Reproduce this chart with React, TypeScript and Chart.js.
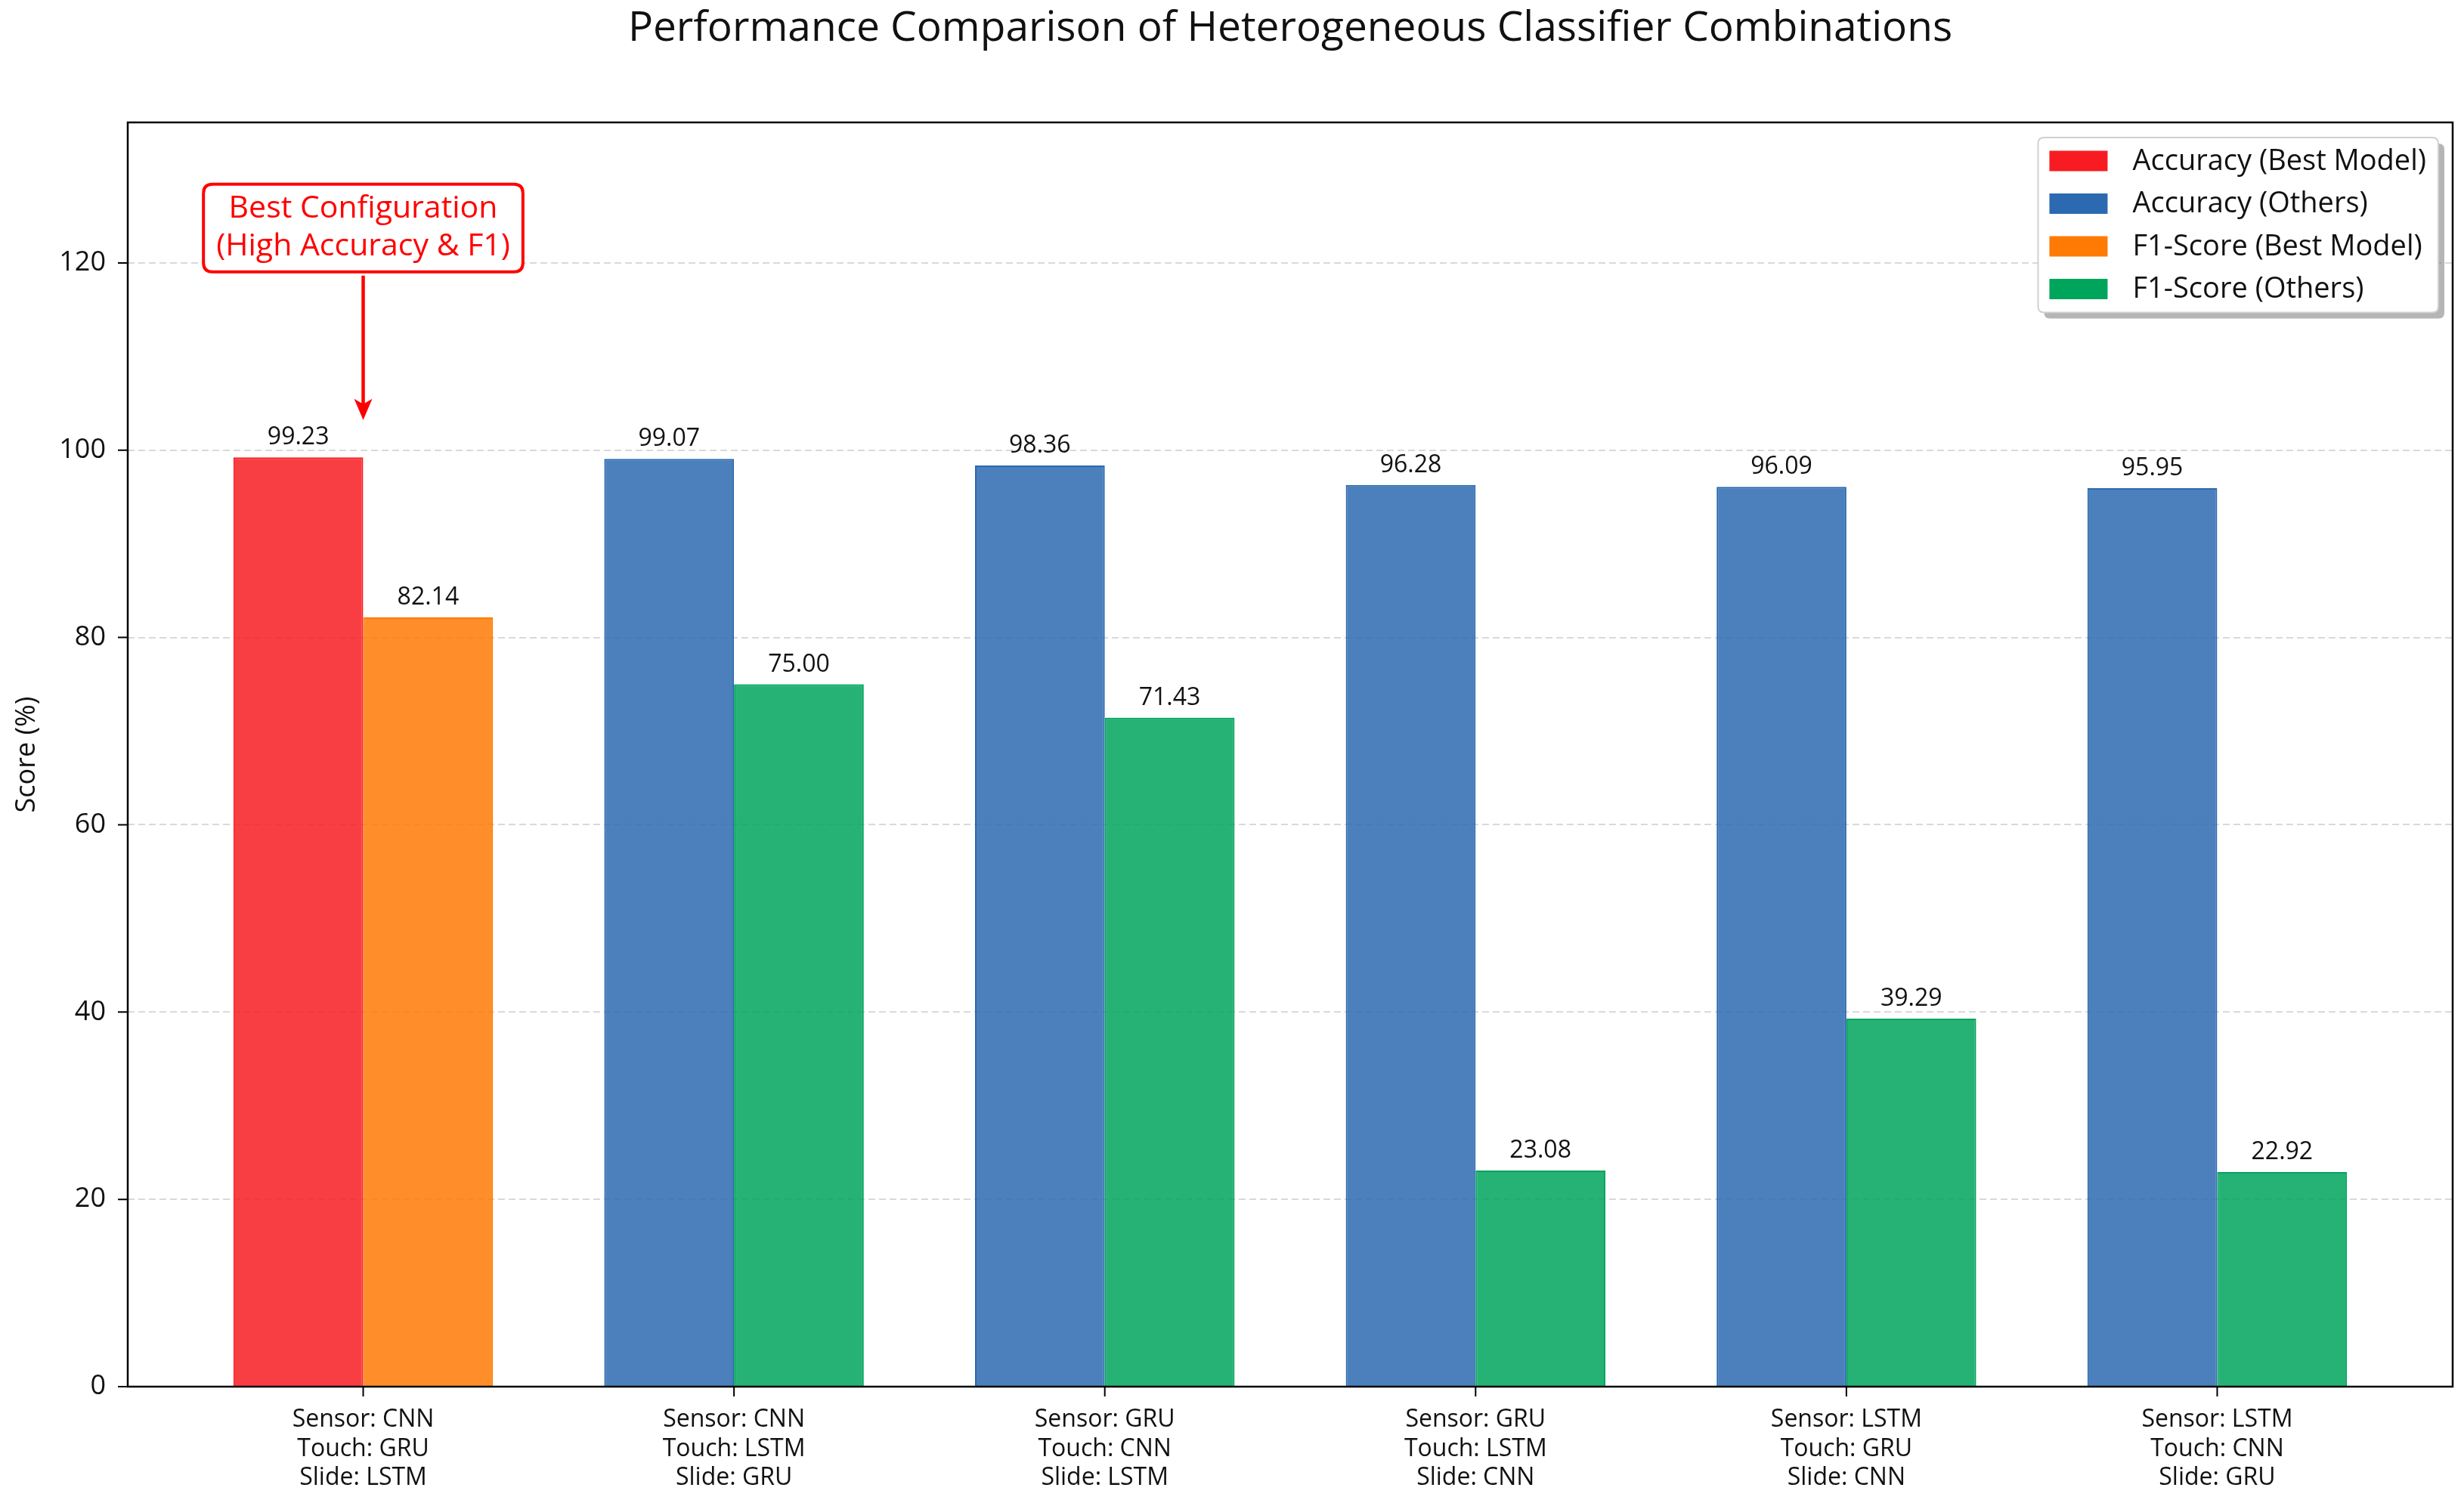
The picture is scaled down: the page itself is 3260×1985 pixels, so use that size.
import React, { useEffect, useRef } from "react";
import { Chart, registerables } from "chart.js";

Chart.register(...registerables);

// ---------- data ----------
const sensorModels = ["CNN", "CNN", "GRU", "GRU", "LSTM", "LSTM"];
const touchModels = ["GRU", "LSTM", "CNN", "LSTM", "GRU", "CNN"];
const slideModels = ["LSTM", "GRU", "LSTM", "CNN", "CNN", "GRU"];
const accuracy = [99.23, 99.07, 98.36, 96.28, 96.09, 95.95];
const f1Score = [82.14, 75.0, 71.43, 23.08, 39.29, 22.92];
const yTicks = [0, 20, 40, 60, 80, 100, 120];
const legendLabels = [
  "Accuracy (Best Model)",
  "Accuracy (Others)",
  "F1-Score (Best Model)",
  "F1-Score (Others)",
];
const titleText = "Performance Comparison of Heterogeneous Classifier Combinations";
const yAxisTitle = "Score (%)";
const annotationLines = ["Best Configuration", "(High Accuracy & F1)"];

// ---------- styles ----------
const FONT = "'Open Sans', 'DejaVu Sans', sans-serif";
const C_RED = "#F81C22";
const C_BLUE = "#2B6AB0";
const C_ORANGE = "#FF7A05";
const C_GREEN = "#00A55C";
const ALPHA = 0.85;
const legendColors = [C_RED, C_BLUE, C_ORANGE, C_GREEN];

function rgba(hex: string, a: number) {
  const r = parseInt(hex.slice(1, 3), 16);
  const g = parseInt(hex.slice(3, 5), 16);
  const b = parseInt(hex.slice(5, 7), 16);
  return `rgba(${r},${g},${b},${a})`;
}

const categories = sensorModels.map((s, i) => [
  `Sensor: ${s}`,
  `Touch: ${touchModels[i]}`,
  `Slide: ${slideModels[i]}`,
]);
const bestIndex = accuracy.indexOf(Math.max(...accuracy));

function roundRect(ctx: CanvasRenderingContext2D, x: number, y: number, w: number, h: number, r: number) {
  ctx.beginPath();
  ctx.moveTo(x + r, y);
  ctx.lineTo(x + w - r, y);
  ctx.quadraticCurveTo(x + w, y, x + w, y + r);
  ctx.lineTo(x + w, y + h - r);
  ctx.quadraticCurveTo(x + w, y + h, x + w - r, y + h);
  ctx.lineTo(x + r, y + h);
  ctx.quadraticCurveTo(x, y + h, x, y + h - r);
  ctx.lineTo(x, y + r);
  ctx.quadraticCurveTo(x, y, x + r, y);
  ctx.closePath();
}

const customPlugin = {
  id: "customDecor",
  afterDatasetsDraw(chart: any) {
    const { ctx, chartArea, scales } = chart;
    const xs = scales.x;
    const ys = scales.y;
    ctx.save();

    // value labels
    ctx.fillStyle = "#111";
    ctx.font = `32px ${FONT}`;
    ctx.textAlign = "center";
    ctx.textBaseline = "alphabetic";
    chart.data.datasets.forEach((ds: any, di: number) => {
      const meta = chart.getDatasetMeta(di);
      meta.data.forEach((bar: any, i: number) => {
        const v = ds.data[i].y;
        ctx.fillText(v.toFixed(2), bar.x, ys.getPixelForValue(v) - 17);
      });
    });

    // spines
    ctx.strokeStyle = "#000";
    ctx.lineWidth = 2.5;
    ctx.strokeRect(chartArea.left, chartArea.top, chartArea.right - chartArea.left, chartArea.bottom - chartArea.top);

    // tick marks
    ctx.lineWidth = 2;
    ctx.beginPath();
    ys.ticks.forEach((t: any) => {
      const py = ys.getPixelForValue(t.value);
      ctx.moveTo(chartArea.left - 13, py);
      ctx.lineTo(chartArea.left, py);
    });
    xs.ticks.forEach((t: any) => {
      const px = xs.getPixelForValue(t.value);
      ctx.moveTo(px, chartArea.bottom);
      ctx.lineTo(px, chartArea.bottom + 13);
    });
    ctx.stroke();

    // title
    ctx.fillStyle = "#111";
    ctx.font = `55px ${FONT}`;
    ctx.textAlign = "center";
    ctx.textBaseline = "middle";
    ctx.fillText(titleText, (chartArea.left + chartArea.right) / 2, 38);

    // annotation
    const ax = xs.getPixelForValue(bestIndex);
    const tipY = ys.getPixelForValue(accuracy[bestIndex] + 4);
    const textY = ys.getPixelForValue(accuracy[bestIndex] + 24.5);
    ctx.font = `41px ${FONT}`;
    const lineH = 50;
    const tw = Math.max(...annotationLines.map((l) => ctx.measureText(l).width));
    const bw = tw + 34;
    const bh = lineH * annotationLines.length + 16;
    const bx = ax - bw / 2;
    const by = textY - bh / 2;
    ctx.fillStyle = "#fff";
    roundRect(ctx, bx, by, bw, bh, 12);
    ctx.fill();
    ctx.strokeStyle = "#FF0000";
    ctx.lineWidth = 4;
    ctx.stroke();
    ctx.fillStyle = "#FF0000";
    annotationLines.forEach((l, i) => {
      ctx.fillText(l, ax, textY + (i - (annotationLines.length - 1) / 2) * lineH);
    });
    // arrow
    ctx.strokeStyle = "#FF0000";
    ctx.lineWidth = 4.5;
    ctx.beginPath();
    ctx.moveTo(ax, by + bh + 5);
    ctx.lineTo(ax, tipY - 14);
    ctx.stroke();
    ctx.beginPath();
    ctx.moveTo(ax, tipY);
    ctx.lineTo(ax - 12, tipY - 28);
    ctx.lineTo(ax, tipY - 21);
    ctx.lineTo(ax + 12, tipY - 28);
    ctx.closePath();
    ctx.fillStyle = "#FF0000";
    ctx.fill();

    // legend
    ctx.font = `38px ${FONT}`;
    const ltw = Math.max(...legendLabels.map((l) => ctx.measureText(l).width));
    const lw = 125 + ltw + 16;
    const rowH = 56.5;
    const lh = 31 + rowH * (legendLabels.length - 1) + 31;
    const lx = chartArea.right - 19 - lw;
    const ly = chartArea.top + 20;
    ctx.fillStyle = "rgba(120,120,120,0.55)";
    roundRect(ctx, lx + 8, ly + 8, lw, lh, 8);
    ctx.fill();
    ctx.fillStyle = "#fff";
    roundRect(ctx, lx, ly, lw, lh, 8);
    ctx.fill();
    ctx.strokeStyle = "#d0d0d0";
    ctx.lineWidth = 2;
    ctx.stroke();
    ctx.textAlign = "left";
    ctx.textBaseline = "middle";
    legendLabels.forEach((l, i) => {
      const cy = ly + 31 + i * rowH;
      ctx.fillStyle = legendColors[i];
      ctx.fillRect(lx + 15, cy - 13.5, 77, 27);
      ctx.fillStyle = "#111";
      ctx.fillText(l, lx + 125, cy + 1);
    });

    ctx.restore();
  },
};

export default function App() {
  const ref = useRef<HTMLCanvasElement | null>(null);

  useEffect(() => {
    if (!ref.current) return;
    const accFill = accuracy.map((_, i) => rgba(i === bestIndex ? C_RED : C_BLUE, ALPHA));
    const accEdge = accuracy.map((_, i) => (i === bestIndex ? C_RED : C_BLUE));
    const f1Fill = f1Score.map((_, i) => rgba(i === bestIndex ? C_ORANGE : C_GREEN, ALPHA));
    const f1Edge = f1Score.map((_, i) => (i === bestIndex ? C_ORANGE : C_GREEN));

    const chart = new Chart(ref.current, {
      type: "bar",
      data: {
        datasets: [
          {
            label: "Accuracy",
            data: accuracy.map((v, i) => ({ x: i, y: v })),
            backgroundColor: accFill,
            borderColor: accEdge,
            borderWidth: 2,
            categoryPercentage: 0.7,
            barPercentage: 1.0,
          },
          {
            label: "F1-Score",
            data: f1Score.map((v, i) => ({ x: i, y: v })),
            backgroundColor: f1Fill,
            borderColor: f1Edge,
            borderWidth: 2,
            categoryPercentage: 0.7,
            barPercentage: 1.0,
          },
        ],
      } as any,
      options: {
        responsive: false,
        devicePixelRatio: 1,
        animation: false,
        layout: { padding: { top: 162, right: 15, left: 0, bottom: 0 } },
        plugins: {
          legend: { display: false },
          title: { display: false },
          tooltip: { enabled: false },
        },
        scales: {
          x: {
            type: "linear",
            min: -0.635,
            max: 5.635,
            offset: false,
            grid: { display: false, drawTicks: false },
            border: { display: false },
            afterBuildTicks: (s: any) => {
              s.ticks = categories.map((_, i) => ({ value: i }));
            },
            afterFit: (s: any) => {
              s.height = 150;
            },
            ticks: {
              autoSkip: false,
              maxRotation: 0,
              minRotation: 0,
              padding: 25,
              color: "#111",
              font: { family: FONT, size: 32, lineHeight: 1.2 },
              callback: (v: any) => categories[v] ?? "",
            },
          },
          y: {
            min: 0,
            max: 135,
            afterBuildTicks: (s: any) => {
              s.ticks = yTicks.map((v) => ({ value: v }));
            },
            afterFit: (s: any) => {
              s.width = 169;
            },
            grid: { color: "#d9d9d9", lineWidth: 2, drawTicks: false },
            border: { display: false, dash: [9, 5] },
            ticks: {
              padding: 29,
              color: "#111",
              font: { family: FONT, size: 36 },
            },
            title: {
              display: true,
              text: yAxisTitle,
              color: "#111",
              font: { family: FONT, size: 36 },
              padding: { top: 14, bottom: 0 },
            },
          },
        },
      } as any,
      plugins: [customPlugin],
    });
    return () => chart.destroy();
  }, []);

  return (
    <div style={{ position: "absolute", left: 0, top: 0, width: 3260, height: 1985, background: "#fff" }}>
      <canvas ref={ref} width={3260} height={1985} style={{ display: "block", width: 3260, height: 1985 }} />
    </div>
  );
}
